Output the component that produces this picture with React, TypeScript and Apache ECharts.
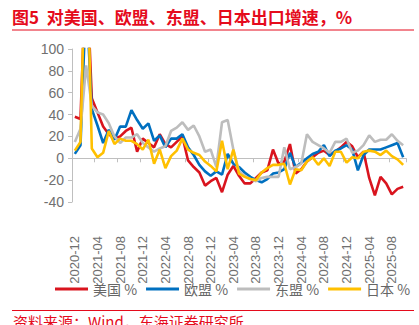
import React, { useEffect, useRef } from "react";
import * as echarts from "echarts";

const categories = [
  "2020-12",
  "2021-01","2021-02","2021-03","2021-04","2021-05","2021-06","2021-07","2021-08","2021-09","2021-10","2021-11","2021-12",
  "2022-01","2022-02","2022-03","2022-04","2022-05","2022-06","2022-07","2022-08","2022-09","2022-10","2022-11","2022-12",
  "2023-01","2023-02","2023-03","2023-04","2023-05","2023-06","2023-07","2023-08","2023-09","2023-10","2023-11","2023-12",
  "2024-01","2024-02","2024-03","2024-04","2024-05","2024-06","2024-07","2024-08","2024-09","2024-10","2024-11","2024-12",
  "2025-01","2025-02","2025-03","2025-04","2025-05","2025-06","2025-07","2025-08","2025-09","2025-10",
];

const usValues = [
  38, 36, 180, 55, 42, 29, 22, 18, 20, 25, 28, 6, 18,
  14, 10, 22, 13, 10, 15, 20, -2, -8, -13, -25, -21,
  -18, -31, -15, -7, -16, -23, -23, -18, -13, -11, 8, -5,
  -3, 13, -14, -10, -3, 1, 5, 7, 3, 6, 10, 15,
  11, 1, 6, -18, -34, -17, -23, -33, -28, -26,
];

const euValues = [
  4, 12, 150, 45, 30, 14, 26, 17, 29, 29, 44, 35, 27,
  32, 16, 21, 10, 18, 18, 22, 10, 3, -6, -12, -16,
  -12, -15, 4, -5, -8, -13, -17, -20, -22, -19, -14, -13,
  -10, 5, -8, -4, 0, 4, 6, 12, 2, 7, 9, 12,
  8, -11, 3, 8, 8, 8, 10, 12, 14, 1,
];

const aseanValues = [
  15, 27, 85, 48, 42, 40, 32, 20, 14, 19, 19, 22, 14,
  10, 6, 9, 11, 25, 28, 33, 26, 30, 20, 6, 8,
  -8, 33, 35, 8, -12, -16, -19, -21, -18, -17, -17, -17,
  10, -10, -8, -5, 22, 15, 12, 9, 5, 15, 15, 18,
  5, 7, 12, 21, 15, 17, 17, 22, 16, 12,
];

const japanValues = [
  7, 15, 220, 9, 1, 5, 25, 13, 18, 16, 16, 13, 8,
  17, -5, 8, -9, 2, 7, 18, 8, 5, 3, -3, -7,
  -12, 16, -10, 8, -14, -17, -19, -20, -13, -9, -6, -6,
  -5, -24, -10, -11, -3, 1, -6, 0, -7, 6, 6, -4,
  1, 0, 6, 7, 6, 3, 7, 2, -1, -6,
];

const seriesNames = ["美国 %", "欧盟 %", "东盟 %", "日本 %"];
const seriesColors = ["#D9141E", "#0070C0", "#BDBDBD", "#FFC000"];
const yTicks = { min: -40, max: 100, interval: 20 };

const titleText = "图5  对美国、欧盟、东盟、日本出口增速，%";
const sourceText = "资料来源：Wind，东海证券研究所";

const FONT = "Arial";
const CJK = "Noto Sans CJK SC";
const RED = "#E50B1C";

export default function App() {
  const ref = useRef<HTMLDivElement>(null);
  useEffect(() => {
    if (!ref.current) return;
    const chart = echarts.init(ref.current, undefined, { renderer: "svg" });
    const data = [usValues, euValues, aseanValues, japanValues];
    chart.setOption({
      animation: false,
      backgroundColor: "#ffffff",
      grid: { left: 72, right: 13, top: 49, bottom: 123, containLabel: false },
      xAxis: {
        type: "category",
        data: categories,
        boundaryGap: true,
        axisLine: { show: true, onZero: true, lineStyle: { color: "#BFBFBF", width: 1 } },
        axisTick: { show: true, interval: 3, length: 4, lineStyle: { color: "#BFBFBF" } },
        axisLabel: {
          interval: 3,
          rotate: 90,
          margin: 34,
          color: "#707070",
          fontSize: 13,
          fontFamily: FONT,
        },
        splitLine: { show: false },
      },
      yAxis: {
        type: "value",
        min: yTicks.min,
        max: yTicks.max,
        interval: yTicks.interval,
        axisLine: { show: true, lineStyle: { color: "#BFBFBF", width: 1 } },
        axisTick: { show: true, length: 4, lineStyle: { color: "#BFBFBF" } },
        axisLabel: { color: "#707070", fontSize: 14, margin: 8, fontFamily: FONT },
        splitLine: { show: false },
      },
      legend: {
        left: 50,
        top: 277,
        icon: "rect",
        itemWidth: 33,
        itemHeight: 3,
        itemGap: 9,
        textStyle: { color: "#666666", fontSize: 14, fontFamily: CJK },
        data: seriesNames,
      },
      series: data.map((d, i) => ({
        name: seriesNames[i],
        type: "line",
        data: d,
        symbol: "none",
        clip: true,
        lineStyle: { color: seriesColors[i], width: 2.6 },
        itemStyle: { color: seriesColors[i] },
      })),
      graphic: [
        {
          type: "text",
          left: 12,
          top: 8,
          style: {
            text: titleText,
            fill: RED,
            font: `bold 17px "${CJK}"`,
          },
        },
        {
          type: "line",
          shape: { x1: 12, y1: 30, x2: 414, y2: 30 },
          style: { stroke: RED, lineWidth: 1 },
        },
        {
          type: "line",
          shape: { x1: 12, y1: 310.5, x2: 414, y2: 310.5 },
          style: { stroke: RED, lineWidth: 1 },
        },
        {
          type: "text",
          left: 13,
          top: 314,
          style: {
            text: sourceText,
            fill: RED,
            font: `15px "${CJK}"`,
          },
        },
      ],
    });
    return () => chart.dispose();
  }, []);
  return <div ref={ref} style={{ width: 419, height: 325, position: "absolute", left: 0, top: 0 }} />;
}
